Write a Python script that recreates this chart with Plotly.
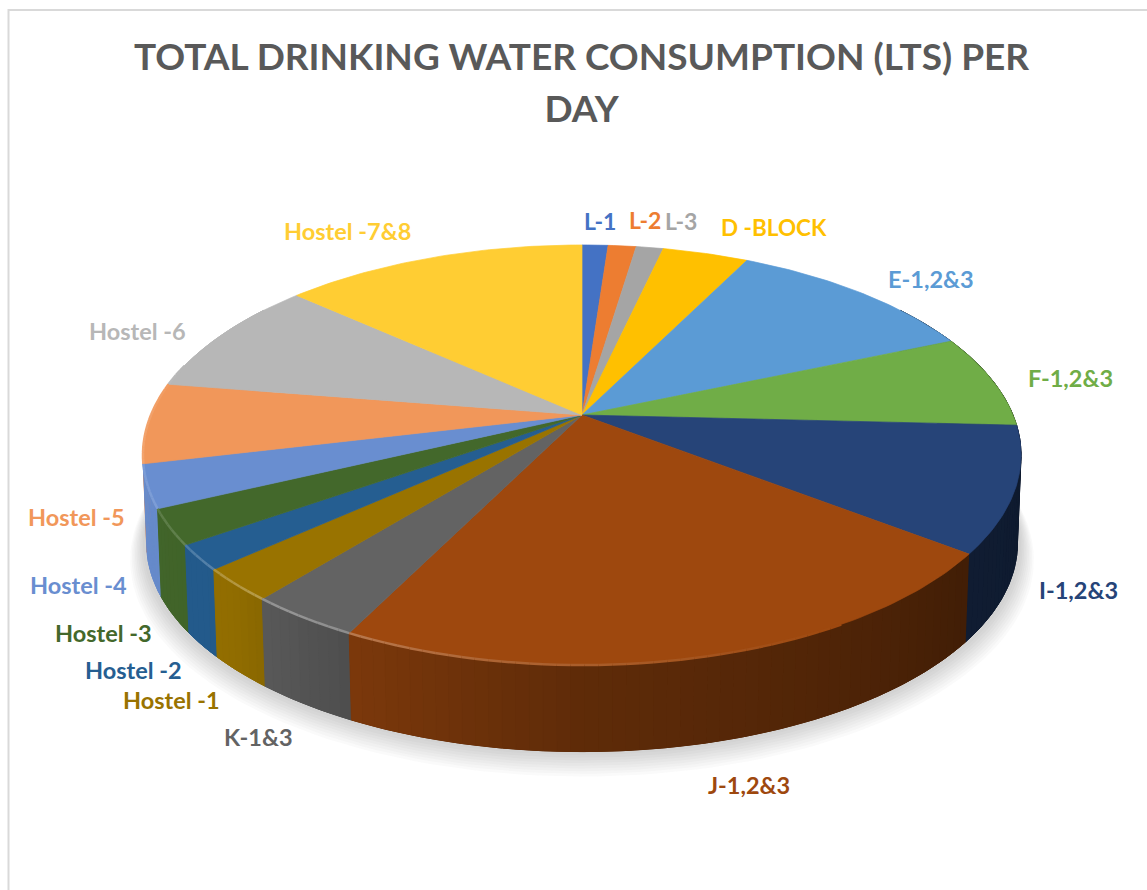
import numpy as np
import plotly.graph_objects as go

# ---- data (estimated share of the total, percent) ----
CATEGORIES = ["L-1", "L-2", "L-3", "D -BLOCK", "E-1,2&3", "F-1,2&3", "I-1,2&3", "J-1,2&3",
              "K-1&3", "Hostel -1", "Hostel -2", "Hostel -3", "Hostel -4", "Hostel -5",
              "Hostel -6", "Hostel -7&8"]
VALUES = [1.15, 1.24, 1.2, 3.8, 11.2, 7.2, 9.6, 22.0, 3.5, 2.5, 1.9, 2.7, 3.3, 6.2, 9.1, 13.4]
COLORS = ["#4472C4", "#ED7D31", "#A5A5A5", "#FFC000", "#5B9BD5", "#70AD47", "#264478", "#9E480E",
          "#636363", "#997300", "#255E91", "#43682B", "#698ED0", "#F1975A", "#B7B7B7", "#FFCD33"]
TITLE_LINES = ["TOTAL DRINKING WATER CONSUMPTION (LTS) PER", "DAY"]

# ---- label anchors, in figure pixels ----
LABEL_X = [600, 645, 681, 774, 931, 1070, 1078, 749, 258, 171, 133, 103, 78, 76, 137, 347]
LABEL_Y = [221, 220, 221, 227, 279, 378, 590, 785, 737, 700, 670, 633, 585, 517, 331, 231]
LABEL_SIZE = [23, 23, 23, 22.5, 23.5, 23.5, 23.5, 23.5, 23.5, 23.5, 23.5, 23.5, 23.5, 23.5, 23.5, 23.5]

# ---- projection of the tilted disc ----
CX, CY, RX, RY, K = 582.0, 415.0, 431.0, 202.4, 0.1905
DEPTH = 89.0


def project(deg, drop=0.0, scale=1.0):
    a = np.radians(deg)
    u, v = np.sin(a) * scale, np.cos(a) * scale
    w = 1 + K * v
    return CX + RX * u / w, CY - RY * v / w + drop


def hex_rgb(c):
    return tuple(int(c[i:i + 2], 16) for i in (1, 3, 5))


def shade(c, f):
    r = hex_rgb(c)
    return "rgb(%d,%d,%d)" % tuple(round(x * f) for x in r)


def tint(c, f):
    r = hex_rgb(c)
    return "rgb(%d,%d,%d)" % tuple(round(x + (255 - x) * f) for x in r)


def side_factor(deg):
    return float(np.interp(deg, [60, 95, 130, 150, 180, 206, 225, 275, 300],
                           [.35, .38, .42, .50, .60, .78, .95, 1.0, 1.0]))


def rim_tint(deg):
    return float(np.interp(deg, [150, 190, 215, 240, 270, 285],
                           [0, .16, .32, .14, .10, 0]))


total = sum(VALUES)
edges = np.concatenate([[0], np.cumsum(VALUES)]) / total * 360

fig = go.Figure()


def poly(x, y, color, name=None, line=None, width=1.0):
    fig.add_trace(go.Scatter(x=x, y=y, mode="lines", fill="toself", fillcolor=color,
                             line=dict(color=line or color, width=width),
                             hoverinfo="skip", showlegend=False, name=name))


def wall(a0, a1, color, name):
    t = np.linspace(a0, a1, max(3, int((a1 - a0) * 2) + 2))
    xt, yt = project(t)
    xb, yb = project(t[::-1], DEPTH, 0.992)
    poly(np.r_[xt, xb], np.r_[yt, yb], color, name)


# soft shadow beneath the disc
full = np.linspace(0, 360, 241)
for i in range(9):
    x, y = project(full, DEPTH + 1 + i * 1.6, 1.0 + i * 0.0035)
    poly(x, y, "rgba(90,90,90,0.028)", line="rgba(0,0,0,0)", width=0)

# outer wall: one solid base per slice, then fine shaded strips over it
strips = []
bases = []
for name, col, a0, a1 in zip(CATEGORIES, COLORS, edges[:-1], edges[1:]):
    lo, hi = max(a0, 55), min(a1, 305)
    if hi <= lo:
        continue
    bases.append((name, col, lo, hi))
    n = max(1, int(np.ceil((hi - lo) / 1.5)))
    sub = np.linspace(lo, hi, n + 1)
    for s0, s1 in zip(sub[:-1], sub[1:]):
        strips.append((name, col, s0, s1))
for name, col, lo, hi in sorted(bases, key=lambda t: -np.cos(np.radians((t[2] + t[3]) / 2))):
    wall(lo, hi, shade(col, side_factor((lo + hi) / 2)), name)
strips.sort(key=lambda t: -np.cos(np.radians((t[2] + t[3]) / 2)))
for name, col, s0, s1 in strips:
    wall(s0, s1, shade(col, side_factor((s0 + s1) / 2)), name)

# top face
for name, col, a0, a1 in zip(CATEGORIES, COLORS, edges[:-1], edges[1:]):
    t = np.linspace(a0, a1, max(4, int(a1 - a0) + 2))
    x, y = project(t)
    fig.add_trace(go.Scatter(x=np.r_[CX, x, CX], y=np.r_[CY, y, CY], mode="lines", fill="toself",
                             fillcolor=col, line=dict(color=col, width=0.7), name=name,
                             hoverinfo="name", showlegend=False))

# lit bevel along the front rim
for name, col, s0, s1 in strips:
    f = rim_tint((s0 + s1) / 2)
    if f > 0:
        x, y = project(np.linspace(s0, s1, 3))
        fig.add_trace(go.Scatter(x=x, y=y, mode="lines", line=dict(color=tint(col, f), width=2.5),
                                 hoverinfo="skip", showlegend=False))

annotations = [dict(x=x, y=y, text="<b>%s</b>" % c, showarrow=False, xref="x", yref="y",
                    font=dict(family="Lato", size=s, color=col))
               for c, col, x, y, s in zip(CATEGORIES, COLORS, LABEL_X, LABEL_Y, LABEL_SIZE)]

title_text = "<br>".join('<span style="font-size:37px"><b>%s</b></span>' % t for t in TITLE_LINES)
fig.update_layout(
    width=1147, height=890, margin=dict(l=0, r=0, t=0, b=0),
    paper_bgcolor="white", plot_bgcolor="white", showlegend=False,
    title=dict(text=title_text, x=0.507, xanchor="center", y=0.9215, yanchor="top",
               font=dict(family="Lato", size=40, color="#595959")),
    xaxis=dict(range=[0, 1147], visible=False, fixedrange=True),
    yaxis=dict(range=[890, 0], visible=False, fixedrange=True),
    annotations=annotations,
    shapes=[dict(type="path", path="M 8.5 890 L 8.5 10 L 1147 10", xref="x", yref="y",
                 line=dict(color="#D9D9D9", width=2))],
)

fig.write_html("out.html", config=dict(displayModeBar=False),
               post_script="document.body.style.margin='0';document.body.style.overflow='hidden';")
